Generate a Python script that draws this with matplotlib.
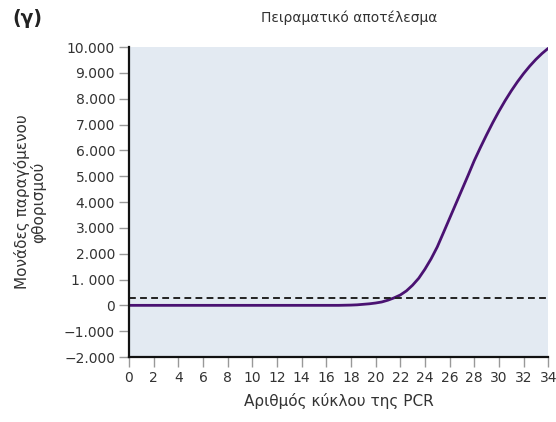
import matplotlib
matplotlib.use('Agg')
from matplotlib import pyplot as plt
import numpy as np

# PCR cycle number vs fluorescence units (half-cycle readings over the rise)
cycles = [0, 2, 4, 6, 8, 10, 12, 14, 16, 17, 18, 18.5, 19, 19.5, 20, 20.5,
          21, 21.5, 22, 22.5, 23, 23.5, 24, 24.5, 25, 25.5, 26, 26.5, 27,
          27.5, 28, 28.5, 29, 29.5, 30, 30.5, 31, 31.5, 32, 32.5, 33, 33.5, 34]
fluorescence = [0, 0, 0, 0, 0, 0, 0, 0, 0, 0, 10, 20, 40, 60, 90, 130,
                200, 290, 400, 560, 780, 1050, 1400, 1800, 2260, 2810, 3365,
                3920, 4475, 5030, 5600, 6110, 6600, 7070, 7510, 7920, 8300,
                8650, 8970, 9260, 9520, 9750, 9950]
threshold = 300

yticks = [10000, 9000, 8000, 7000, 6000, 5000, 4000, 3000, 2000, 1000, 0, -1000, -2000]
ytick_labels = ['10.000', '9.000', '8.000', '7.000', '6.000', '5.000', '4.000',
                '3.000', '2.000', '1. 000', '0', '\u22121.000', '\u22122.000']
xticks = list(range(0, 35, 2))

plt.rcParams['font.family'] = 'DejaVu Sans'

fig = plt.figure(figsize=(5.56, 4.22), dpi=100)
ax = fig.add_axes([0.232, 0.154, 0.754, 0.7346])
ax.set_facecolor('#e3eaf2')

ax.plot(cycles, fluorescence, color='#4a1272', linewidth=2,
        solid_capstyle='round', solid_joinstyle='round')
ax.plot([0, 34], [threshold, threshold], color='#222222', linewidth=1.4,
        linestyle=(0, (3.5, 2.2)))

ax.set_xlim(0, 34)
ax.set_ylim(-2000, 10000)
ax.set_xticks(xticks)
ax.set_yticks(yticks)
ax.set_yticklabels(ytick_labels)

for s in ['top', 'right']:
    ax.spines[s].set_visible(False)
for s in ['left', 'bottom']:
    ax.spines[s].set_linewidth(1.6)
    ax.spines[s].set_color('#111111')

ax.tick_params(axis='both', direction='out', length=7, width=1, color='#999999',
               labelsize=10, labelcolor='#333333', pad=3)

ax.set_xlabel('Αριθμός κύκλου της PCR', fontsize=11, color='#333333', labelpad=6)
ax.set_ylabel('Μονάδες παραγόμενου\nφθορισμού', fontsize=11, color='#333333',
              labelpad=13, linespacing=1.0, multialignment='center')

# title sits a little right of the axes centre
ax.text(0.525, 1.095, 'Πειραματικό αποτέλεσμα', transform=ax.transAxes,
        fontsize=10, color='#333333', ha='center', va='center')
fig.text(0.022, 0.955, '(γ)', fontsize=13.5, fontweight='bold', color='#222222',
         va='center')

plt.savefig('out.png', dpi=100)
